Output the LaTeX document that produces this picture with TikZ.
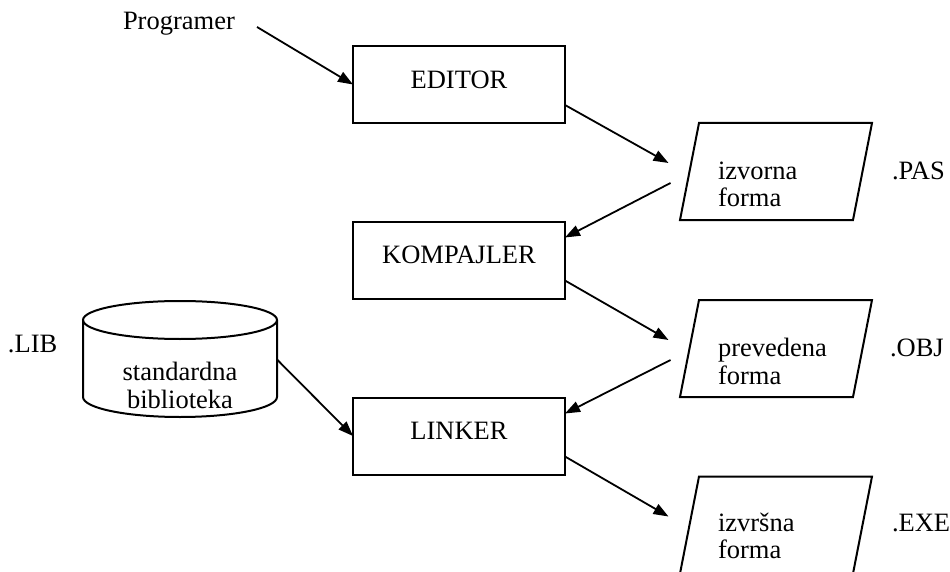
\documentclass[tikz,border=0pt]{standalone}
\usepackage{fontspec}
\setmainfont{Liberation Serif}
\usetikzlibrary{arrows.meta}
\begin{document}
\begin{tikzpicture}[x=1pt,y=-1pt,
  every node/.style={font=\fontsize{26.5}{27.5}\selectfont, inner sep=0pt, outer sep=0pt},
  stage/.style={draw, line width=2pt, minimum width=212pt, minimum height=77pt, text depth=10pt},
  % frame of a file symbol; the slanted outline is drawn from its corners
  medium/.style={minimum width=192pt, minimum height=97pt,
    append after command={
      \pgfextra{\draw[line width=2pt, line join=miter]
        (\tikzlastnode.south west) -- ([xshift=-19pt]\tikzlastnode.south east)
        -- (\tikzlastnode.north east) -- ([xshift=19pt]\tikzlastnode.north west) -- cycle;}}},
  tag/.style={anchor=base west},
  body/.style={anchor=base west, align=left},
  flow/.style={line width=1.8pt, -{Triangle[length=15pt,width=11pt]}},
]
\useasboundingbox (0,0) rectangle (950,572);
\clip (0,0) rectangle (950,572);

% actor
\node (prog) [tag] at (123,30) {Programer};
\coordinate (progout) at (257,27);

% processing stages
\node (editor) [stage] at (459,84.5) {EDITOR};
\node (komp)   [stage] at (459,260)  {KOMPAJLER};
\node (linker) [stage] at (459,436)  {LINKER};

% files
\node (p1) [medium] at (776,171.5) {};
\node (p2) [medium] at (776,348.5) {};
\node (p3) [medium] at (776,525) {};
\node (p1txt) [body] at (718,207) {izvorna\\forma};
\node (p2txt) [body] at (718,384) {prevedena\\forma};
\node (p3txt) [body] at (718,558.5) {izvršna\\forma};
\node (pas) [tag] at (892,179.5) {.PAS};
\node (obj) [tag] at (890,356.5) {.OBJ};
\node (exe) [tag] at (892,531) {.EXE};

% library (cylinder)
\node (lib) [minimum width=194pt, minimum height=115pt] at (180,359.5) {};
\draw[line width=2pt] (180,320) ellipse [x radius=97pt, y radius=19pt];
\draw[line width=2pt] (83,320) -- (83,397)
  arc[start angle=180, end angle=360, x radius=97pt, y radius=20pt] -- (277,320);
\node (libtxt) [anchor=base, align=center] at (180,408) {standardna\\biblioteka};
\node (libext) [tag] at (8,352) {.LIB};

% connectors
\draw[flow] (progout) -- (editor.west);
\draw[flow] ([yshift=-20.5pt]editor.east) -- ([xshift=-11.5pt,yshift=8.5pt]p1.west);
\draw[flow] ([xshift=-9.5pt,yshift=-11.5pt]p1.west) -- ([yshift=22.5pt]komp.east);
\draw[flow] ([yshift=-20.5pt]komp.east) -- ([xshift=-11.5pt,yshift=8.5pt]p2.west);
\draw[flow] ([xshift=-9.5pt,yshift=-11.5pt]p2.west) -- ([yshift=22.5pt]linker.east);
\draw[flow] (lib.east) -- (linker.west);
\draw[flow] ([yshift=-20.5pt]linker.east) -- ([xshift=-11.5pt,yshift=8.5pt]p3.west);
\end{tikzpicture}
\end{document}
